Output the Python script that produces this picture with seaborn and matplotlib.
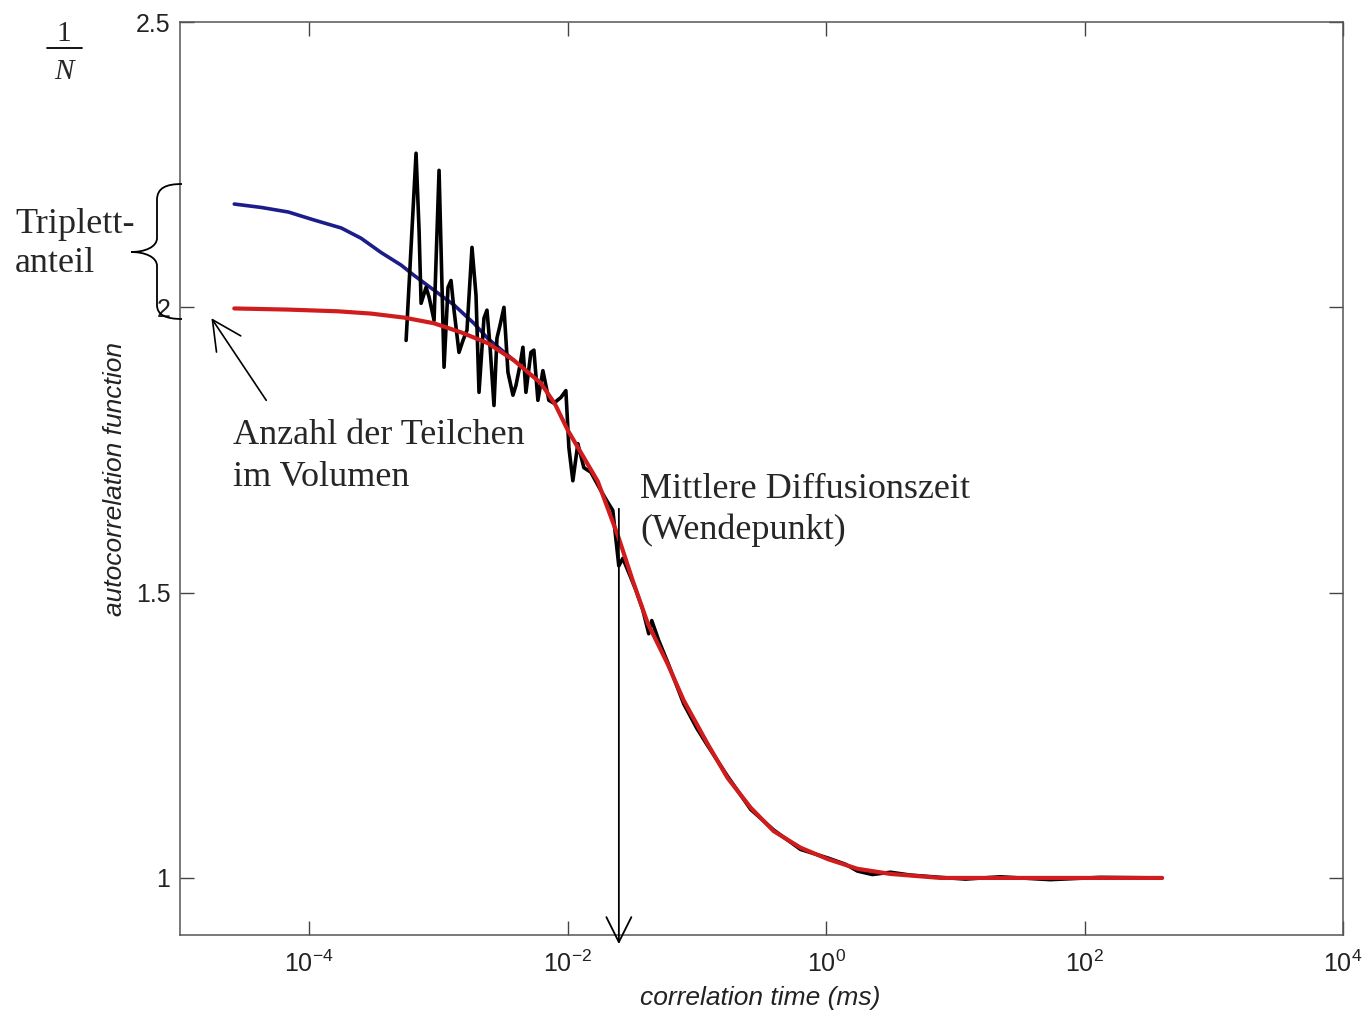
import numpy as np
import pandas as pd
import seaborn as sns
import matplotlib
matplotlib.use("Agg")
import matplotlib.pyplot as plt
from matplotlib.path import Path
from matplotlib.patches import PathPatch
from matplotlib.transforms import Affine2D
from matplotlib.ticker import NullLocator, FixedLocator, FuncFormatter

# ---------------- data ----------------
# fit including triplet term (blue)
blue_tau = [2.63e-5, 4.26e-5, 6.89e-5, 1.09e-4, 1.77e-4, 2.52e-4, 3.6e-4, 5.14e-4,
            6.47e-4, 9.24e-4, 1.32e-3, 1.88e-3, 2.42e-3, 3.84e-3]
blue_g   = [2.181, 2.175, 2.167, 2.153, 2.139, 2.121, 2.096, 2.074,
            2.056, 2.030, 2.004, 1.972, 1.945, 1.907]

# fit without triplet term (red)
red_tau = [2.63e-5, 6.89e-5, 1.67e-4, 3.01e-4, 5.42e-4, 9.24e-4, 1.50e-3, 2.42e-3,
           3.84e-3, 6.21e-3, 8.0e-3, 1.0e-2, 1.43e-2, 1.71e-2, 2.49e-2, 3.2e-2,
           4.17e-2, 5.94e-2, 7.91e-2, 0.121, 0.173, 0.261, 0.393, 0.634, 1.03,
           1.75, 3.15, 7.66, 22.3, 398.0]
red_g   = [1.998, 1.996, 1.993, 1.989, 1.982, 1.972, 1.956, 1.937,
           1.907, 1.867, 1.830, 1.785, 1.725, 1.695, 1.595, 1.520,
           1.446, 1.375, 1.311, 1.235, 1.175, 1.123, 1.082, 1.053, 1.033,
           1.016, 1.007, 1.000, 1.000, 1.000]

# measured autocorrelation (black)
meas_tau = [5.62e-4, 6.71e-4, 7.08e-4, 7.34e-4, 8.02e-4, 8.46e-4, 9.25e-4, 1.011e-3,
            1.105e-3, 1.186e-3, 1.251e-3, 1.320e-3, 1.442e-3, 1.549e-3, 1.663e-3,
            1.818e-3, 1.953e-3, 2.060e-3, 2.251e-3, 2.374e-3, 2.505e-3, 2.690e-3,
            2.837e-3, 2.992e-3, 3.213e-3, 3.451e-3, 3.772e-3, 3.978e-3, 4.272e-3,
            4.506e-3, 4.753e-3, 5.194e-3, 5.479e-3, 5.884e-3, 6.432e-3, 7.156e-3,
            7.823e-3, 8.858e-3, 9.685e-3, 1.022e-2, 1.097e-2, 1.199e-2, 1.334e-2,
            1.511e-2, 1.806e-2, 2.009e-2, 2.235e-2, 2.487e-2, 2.671e-2, 2.972e-2,
            3.365e-2, 3.812e-2, 4.240e-2, 4.473e-2, 5.068e-2, 5.94e-2, 7.91e-2,
            0.100, 0.121, 0.173, 0.261, 0.393, 0.634, 1.03, 1.41, 1.75, 2.28, 3.15,
            4.49, 7.66, 12.0, 22.3, 54.2, 132.0, 398.0]
meas_g   = [1.942, 2.270, 2.135, 2.007, 2.035, 2.018, 1.977, 2.240,
            1.895, 2.035, 2.047, 1.995, 1.921, 1.942, 1.960,
            2.105, 2.021, 1.851, 1.981, 1.995, 1.933, 1.828,
            1.946, 1.968, 2.000, 1.886, 1.846, 1.863, 1.898,
            1.930, 1.851, 1.921, 1.925, 1.837, 1.889, 1.837,
            1.832, 1.842, 1.854, 1.754, 1.696, 1.761, 1.719,
            1.711, 1.679, 1.661, 1.644, 1.547, 1.560, 1.535,
            1.505, 1.470, 1.428, 1.451, 1.416, 1.378, 1.305,
            1.262, 1.232, 1.178, 1.120, 1.084, 1.050, 1.035, 1.024, 1.012, 1.006, 1.010,
            1.005, 1.001, 0.998, 1.002, 0.997, 1.001, 1.000]

x_ticks = [1e-4, 1e-2, 1e0, 1e2, 1e4]
y_ticks = [1.0, 1.5, 2.0, 2.5]
y_tick_labels = ["1", "1.5", "2", "2.5"]

# ---------------- styling ----------------
sns.set_theme(style="ticks")
plt.rcParams["font.family"] = ["Liberation Sans", "DejaVu Sans"]
plt.rcParams["axes.linewidth"] = 1.1
plt.rcParams["axes.edgecolor"] = "#555555"

W, H = 1367, 1013
fig = plt.figure(figsize=(W / 100, H / 100), dpi=100)
ax = fig.add_axes([180 / W, 1 - 935 / H, (1343 - 180) / W, (935 - 22) / H])

df_blue = pd.DataFrame({"tau": blue_tau, "g": blue_g})
df_red = pd.DataFrame({"tau": red_tau, "g": red_g})
df_meas = pd.DataFrame({"tau": meas_tau, "g": meas_g})

sns.lineplot(data=df_blue, x="tau", y="g", ax=ax, color="#1c1c8a", lw=2.6,
             estimator=None, sort=False, zorder=3)
sns.lineplot(data=df_meas, x="tau", y="g", ax=ax, color="black", lw=2.6,
             estimator=None, sort=False, zorder=4)
sns.lineplot(data=df_red, x="tau", y="g", ax=ax, color="#d01c1c", lw=3.0,
             estimator=None, sort=False, zorder=5)

ax.set_xscale("log")
ax.set_xlim(1e-5, 1e4)
ax.set_ylim(0.9, 2.5)
ax.xaxis.set_major_locator(FixedLocator(x_ticks))
ax.xaxis.set_minor_locator(NullLocator())
ax.yaxis.set_major_locator(FixedLocator(y_ticks))
ax.yaxis.set_major_formatter(FuncFormatter(
    lambda v, p: y_tick_labels[y_ticks.index(v)] if v in y_ticks else ""))
ax.tick_params(direction="in", top=True, right=True, length=10, width=1.0,
               color="#444444", labelsize=18, labelcolor="#222222", pad=7)
ax.tick_params(axis="x", pad=11)

ax.set_xlabel("correlation time (ms)", fontsize=19, style="italic", color="#222222")
ax.set_ylabel("autocorrelation function", fontsize=19, style="italic", color="#222222")
ax.xaxis.set_label_coords((760 - 180) / 1163, -(986 - 935) / 913)
ax.yaxis.set_label_coords(-(180 - 127) / 1163, 0.5)

# ---------------- annotations ----------------
serif = ["Liberation Serif", "DejaVu Serif"]
px = Affine2D().scale(1 / W, -1 / H).translate(0, 1) + fig.transFigure

# 1/N
fig.text(64, 41, "1", transform=px, family=serif, fontsize=21, ha="center", va="baseline")
fig.add_artist(plt.Line2D([47, 82], [48, 48], transform=px, color="black", lw=1.3))
fig.text(64, 79, "N", transform=px, family=serif, fontsize=21, style="italic",
         ha="center", va="baseline")

# Triplett-anteil with brace
fig.text(15, 233, "Triplett-", transform=px, family=serif, fontsize=26, ha="left", va="baseline")
fig.text(15, 272, "anteil", transform=px, family=serif, fontsize=26, ha="left", va="baseline")
verts = [(182, 184), (166, 184), (157, 188), (157, 200),
         (157, 238),
         (157, 247), (145, 252), (131, 252),
         (145, 252), (157, 257), (157, 266),
         (157, 305),
         (157, 315), (166, 319), (182, 319)]
codes = [Path.MOVETO, Path.CURVE4, Path.CURVE4, Path.CURVE4,
         Path.LINETO,
         Path.CURVE4, Path.CURVE4, Path.CURVE4,
         Path.CURVE4, Path.CURVE4, Path.CURVE4,
         Path.LINETO,
         Path.CURVE4, Path.CURVE4, Path.CURVE4]
fig.add_artist(PathPatch(Path(verts, codes), transform=px, fill=False, lw=1.3, edgecolor="black"))

# Anzahl der Teilchen
fig.text(233, 444, "Anzahl der Teilchen", transform=px, family=serif, fontsize=26, ha="left", va="baseline")
fig.text(233, 486, "im Volumen", transform=px, family=serif, fontsize=26, ha="left", va="baseline")
ax.annotate("", xy=(1.75e-5, 1.981), xytext=(4.65e-5, 1.837),
            arrowprops=dict(arrowstyle="->,head_length=0.7,head_width=0.35", lw=1.2,
                            color="black", mutation_scale=30, shrinkA=0, shrinkB=0),
            annotation_clip=False)

# Mittlere Diffusionszeit
fig.text(640, 498, "Mittlere Diffusionszeit", transform=px, family=serif, fontsize=26, ha="left", va="baseline")
fig.text(640, 539, "(Wendepunkt)", transform=px, family=serif, fontsize=26, ha="left", va="baseline")
ax.annotate("", xy=(0.0249, 0.884), xytext=(0.0249, 1.647),
            arrowprops=dict(arrowstyle="->,head_length=0.6,head_width=0.3", lw=1.3,
                            color="black", mutation_scale=30, shrinkA=0, shrinkB=0),
            annotation_clip=False, zorder=6)

fig.savefig("out.png", dpi=100, facecolor="white")
